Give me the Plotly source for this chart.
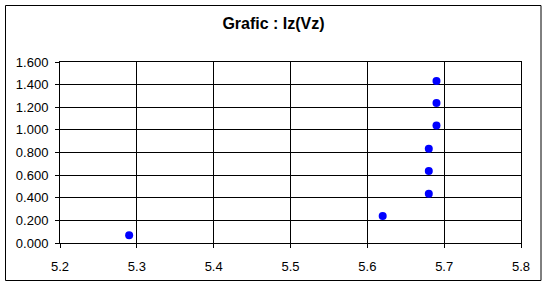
import plotly.graph_objects as go

vz = [5.29, 5.62, 5.68, 5.68, 5.68, 5.69, 5.69, 5.69]
iz = [0.068, 0.239, 0.435, 0.636, 0.834, 1.038, 1.238, 1.431]

x_ticks = [5.2, 5.3, 5.4, 5.5, 5.6, 5.7, 5.8]
y_ticks = [0.0, 0.2, 0.4, 0.6, 0.8, 1.0, 1.2, 1.4, 1.6]
title_text = "Grafic : Iz(Vz)"

W, H = 547, 287
L, R, T, B = 60, 521, 62, 243

fig = go.Figure()
fig.add_trace(go.Scatter(
    x=vz, y=iz, mode="markers",
    marker=dict(color="#0000FF", size=8, line=dict(width=0)),
    showlegend=False, hoverinfo="x+y",
))

fig.update_layout(
    width=W, height=H,
    margin=dict(l=L, r=W - R, t=T, b=H - B, pad=0),
    paper_bgcolor="white", plot_bgcolor="white",
    font=dict(family="Liberation Sans, Arial, sans-serif", size=13, color="black"),
    title=dict(text="<b>" + title_text + "</b>", x=0.5, xanchor="center",
               y=1 - 23 / H, yanchor="middle",
               font=dict(family="Liberation Sans, Arial, sans-serif", size=16, color="black")),
    xaxis=dict(range=[5.2, 5.8], tickvals=x_ticks, tickformat=".1f",
               showgrid=True, gridcolor="black", gridwidth=1,
               showline=True, linecolor="black", linewidth=1, mirror=True,
               ticks="outside", ticklen=4, tickcolor="black", tickwidth=1,
               zeroline=False, ticklabelstandoff=7,
               tickfont=dict(size=13, color="black")),
    yaxis=dict(range=[0, 1.6], tickvals=y_ticks, tickformat=".3f",
               showgrid=True, gridcolor="black", gridwidth=1,
               showline=True, linecolor="black", linewidth=1, mirror=True,
               ticks="outside", ticklen=4, tickcolor="black", tickwidth=1,
               zeroline=False, ticklabelstandoff=4,
               tickfont=dict(size=13, color="black")),
)

# outer chart border
fig.add_shape(type="rect", xref="paper", yref="paper",
              x0=(5.5 - L) / (R - L), x1=(541 - L) / (R - L),
              y0=(B - 280.5) / (B - T), y1=(B - 5.5) / (B - T),
              line=dict(color="black", width=1), fillcolor="rgba(0,0,0,0)",
              layer="below")

fig.write_html("out.html")
